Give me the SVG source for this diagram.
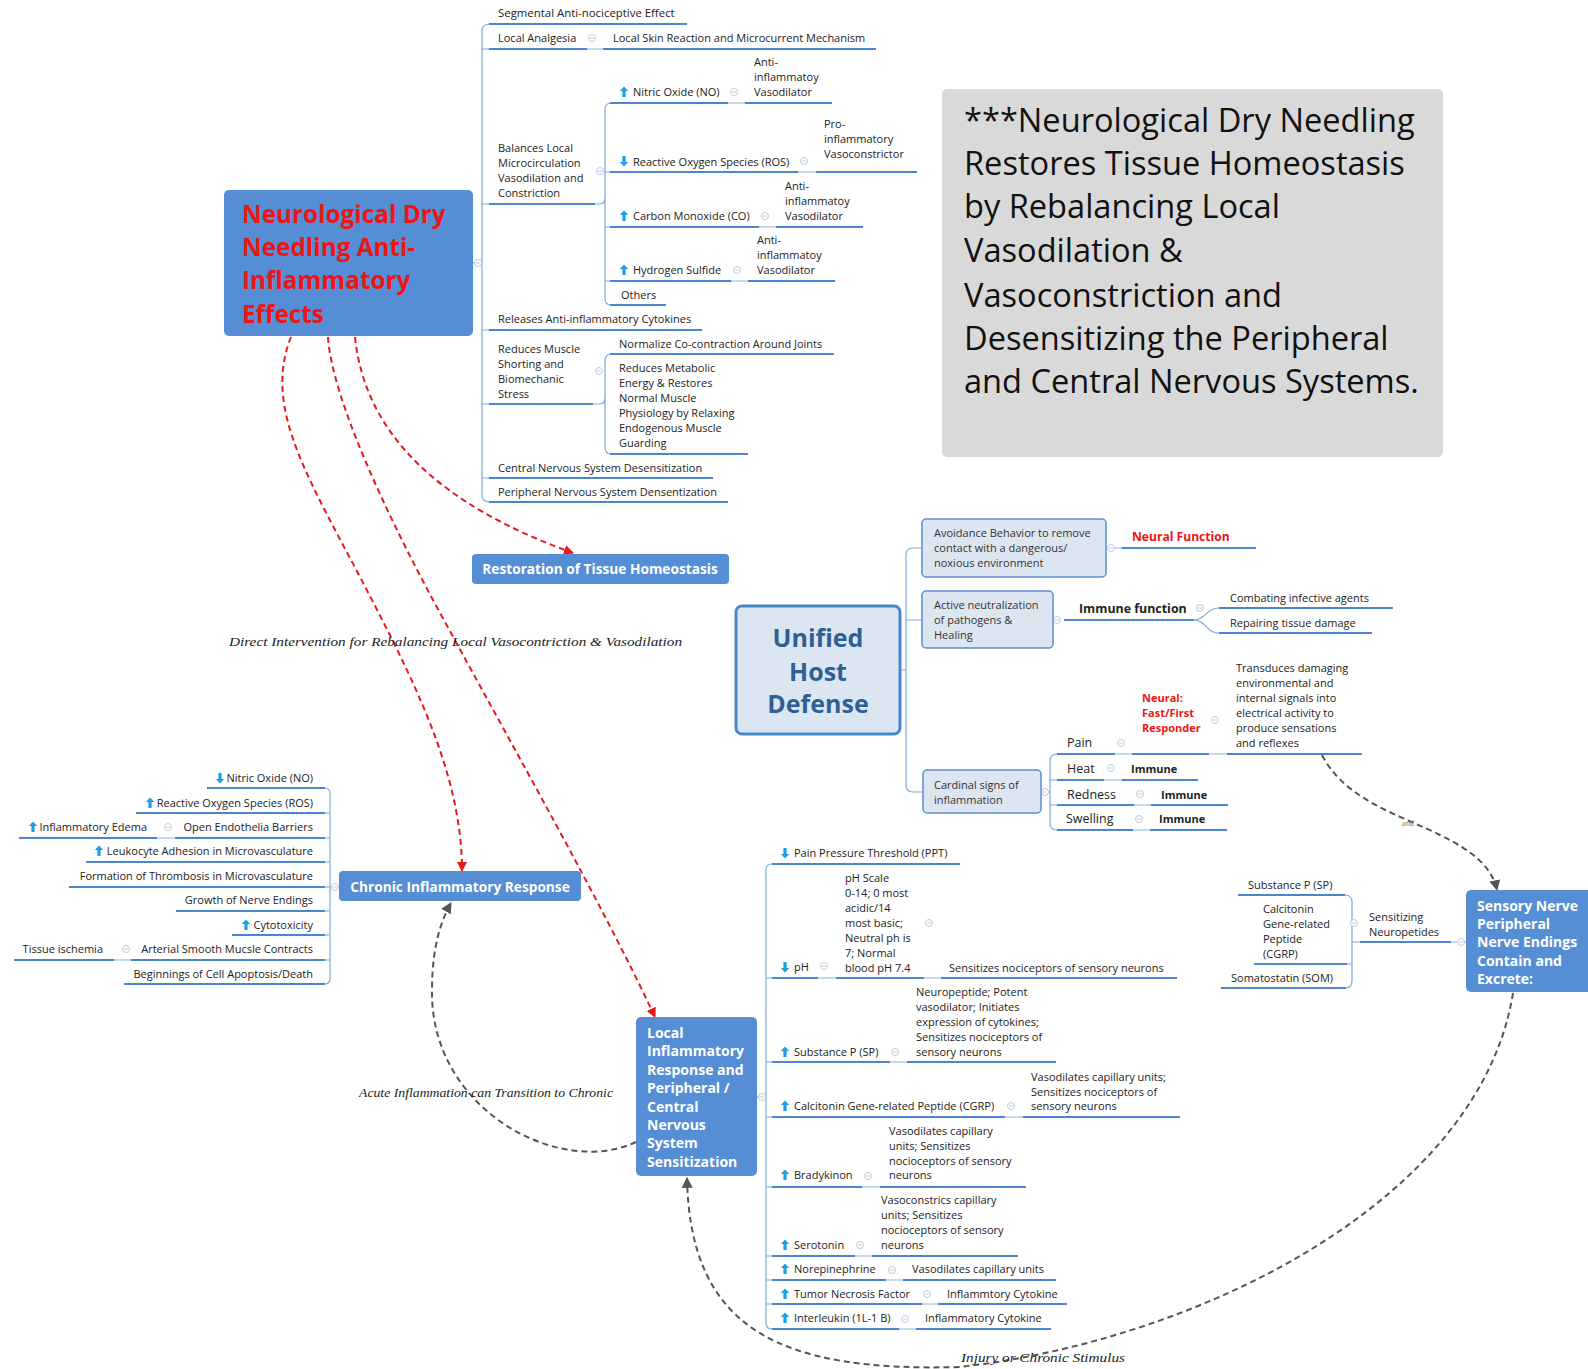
<svg xmlns="http://www.w3.org/2000/svg" xmlns:xlink="http://www.w3.org/1999/xlink" width="1588" height="1369" viewBox="0 0 1588 1369">
<style>
.t{font-family:"Open Sans","Liberation Sans",sans-serif;font-size:11px;fill:#222}
.tm{font-family:"Open Sans","Liberation Sans",sans-serif;font-size:12.5px;fill:#222}
.b{font-weight:bold}
.red{fill:#f01414;font-weight:bold}
.wb{font-family:"Open Sans","Liberation Sans",sans-serif;font-weight:bold;fill:#fff}
.it{font-family:"Liberation Serif","DejaVu Serif",serif;font-style:italic;fill:#222}
.ul{stroke:#4a86cf;stroke-width:2;fill:none}
.cn{stroke:#7ea8dd;stroke-width:1.2;fill:none}
.th{stroke:#c9d9ee;stroke-width:2;fill:none}
.bx{fill:#558ed5}
.lb{fill:#dce6f1;stroke:#5a8ed0;stroke-width:1.5}
.rd{stroke:#e31b1b;stroke-width:2;fill:none;stroke-dasharray:6 4}
.gd{stroke:#555;stroke-width:2;fill:none;stroke-dasharray:6 4}
</style>
<defs>
<g id="col"><circle r="3.5" fill="#fff" stroke="#bccbe0" stroke-width="1"/><path d="M-2,0H2" stroke="#bccbe0" stroke-width="1"/></g>
<path id="up" d="M0,-5.5 L4.2,-1 L1.6,-1 L1.6,5 L-1.6,5 L-1.6,-1 L-4.2,-1Z" fill="#1c9ee6"/>
<path id="dn" d="M0,5.5 L4.2,1 L1.6,1 L1.6,-5 L-1.6,-5 L-1.6,1 L-4.2,1Z" fill="#1c9ee6"/>
<marker id="ar" viewBox="0 0 10 10" refX="9" refY="5" markerWidth="10" markerHeight="10" markerUnits="userSpaceOnUse" orient="auto"><path d="M0,0 L10,5 L0,10Z" fill="#e31b1b"/></marker>
<marker id="ag" viewBox="0 0 10 10" refX="9" refY="5" markerWidth="11" markerHeight="11" markerUnits="userSpaceOnUse" orient="auto"><path d="M0,0 L10,5 L0,10Z" fill="#555"/></marker>
</defs>
<rect width="1588" height="1369" fill="#fff"/>

<!-- connectors -->
<g id="connectors">
<path class="cn" d="M490,24 Q482,24 482,31 L482,495 Q482,502 490,502 M482,49 H490 M482,204 H490 M482,330 H490 M482,404 H490 M482,478 H490 M473,263 H482"/>
<path class="cn" d="M595,204 H600 Q605,204 605,197 L605,110 Q605,103 611,103 M605,197 L605,298 Q605,305 611,305 M605,172 H611 M605,227 H611 M605,281 H611"/>
<path class="cn" d="M593,404 H600 Q605,404 605,397 L605,361 Q605,354 611,354 M605,397 L605,447 Q605,454 611,454"/>
<path class="cn" d="M922,548 H913 Q906,548 906,555 L906,785 Q906,792 913,792 H922 M906,620 H922 M900,670 H906"/>
<path class="cn" d="M1194,620 C1206,620 1206,608 1219,608 M1194,620 C1206,620 1206,633 1219,633"/>
<path class="cn" d="M1057,754 Q1050,754 1050,761 L1050,823 Q1050,830 1057,830 M1050,780 H1057 M1050,805 H1057 M1041,792 H1050"/>
<path class="cn" d="M1345,895 Q1352,895 1352,902 L1352,981 Q1352,988 1345,988 M1347,964 H1352 M1352,942 H1360"/>
<path class="cn" d="M772,864 Q766,864 766,870 L766,1323 Q766,1329 772,1329 M766,978 H772 M766,1062 H772 M766,1117 H772 M766,1187 H772 M766,1256 H772 M766,1280 H772 M766,1304 H772 M757,1097 H766"/>
<path class="cn" d="M325,788 Q330,788 330,794 L330,978 Q330,984 325,984 M325,813 H330 M325,838 H330 M325,862 H330 M325,887 H339 M325,911 H330 M325,935 H330 M325,960 H330"/>
<!-- small joins -->
<path class="th" d="M587,49 H603 M728,103 H745 M798,172 H816 M759,227 H776 M731,281 H748 M1106,548 H1122 M1115,754 H1132 M1209,754 H1227 M1104,780 H1122 M1134,805 H1151 M1133,830 H1150 M1451,942 H1466 M818,978 H836 M924,978 H941 M890,1062 H907 M1005,1117 H1023 M862,1187 H880 M855,1256 H872 M886,1280 H903 M922,1304 H938 M899,1329 H916 M157,838 H175 M114,960 H131"/>
<!-- red dashed -->
<path class="rd" marker-end="url(#ar)" d="M355,337 C365,435 440,505 573,553"/>
<path class="rd" marker-end="url(#ar)" d="M328,337 C332,400 390,520 433,600 C520,760 600,900 655,1017"/>
<path class="rd" marker-end="url(#ar)" d="M291,337 C262,410 310,480 372,600 C420,693 462,780 462,871"/>
<!-- gray dashed -->
<path class="gd" marker-end="url(#ag)" d="M636,1142 C560,1178 430,1110 432,990 C432,950 440,922 451,903"/>
<path class="gd" marker-end="url(#ag)" d="M1513,993 C1480,1200 1200,1340 960,1367 C780,1372 690,1330 687,1178"/>
<path class="gd" marker-end="url(#ag)" d="M1322,755 C1345,800 1400,815 1440,835 C1475,852 1492,868 1497,890"/>
<text class="it" x="1402" y="826" style="font-size:8px;fill:#777">and</text>
<text class="it" x="229" y="646" font-size="13.5" textLength="453" lengthAdjust="spacingAndGlyphs">Direct  Intervention for Rebalancing Local Vasocontriction &amp; Vasodilation</text>
<text class="it" x="359" y="1097" font-size="13.5" textLength="254" lengthAdjust="spacingAndGlyphs">Acute Inflammation can Transition to Chronic</text>
<text class="it" x="961" y="1362" font-size="13.5" textLength="164" lengthAdjust="spacingAndGlyphs">Injury or Chronic Stimulus</text>
</g>

<!-- collapse icons -->
<g id="icons">
<use href="#col" x="478" y="263"/><use href="#col" x="592" y="38"/><use href="#col" x="600" y="171"/>
<use href="#col" x="734" y="92"/><use href="#col" x="804" y="161"/><use href="#col" x="765" y="216"/><use href="#col" x="737" y="270"/>
<use href="#col" x="599" y="371"/>
<use href="#col" x="1111" y="548"/><use href="#col" x="1057" y="620"/><use href="#col" x="1200" y="608"/>
<use href="#col" x="1045" y="792"/><use href="#col" x="1121" y="743"/><use href="#col" x="1215" y="720"/>
<use href="#col" x="1111" y="768"/><use href="#col" x="1140" y="794"/><use href="#col" x="1139" y="819"/>
<use href="#col" x="1354" y="923"/><use href="#col" x="1461" y="942"/>
<use href="#col" x="762" y="1097"/><use href="#col" x="824" y="966"/><use href="#col" x="929" y="923"/>
<use href="#col" x="895" y="1052"/><use href="#col" x="1011" y="1106"/><use href="#col" x="868" y="1176"/>
<use href="#col" x="860" y="1245"/><use href="#col" x="892" y="1270"/><use href="#col" x="927" y="1294"/><use href="#col" x="905" y="1319"/>
<use href="#col" x="335" y="887"/><use href="#col" x="168" y="827"/><use href="#col" x="126" y="949"/>
</g>

<!-- main node -->
<g id="main">
<rect x="224" y="190" width="249" height="146" rx="5" class="bx"/>
<text font-family="'Open Sans','Liberation Sans',sans-serif" font-weight="bold" font-size="24.3" fill="#f01414"><tspan x="242" y="223">Neurological Dry</tspan><tspan x="242" y="256">Needling Anti-</tspan><tspan x="242" y="289">Inflammatory</tspan><tspan x="242" y="323">Effects</tspan></text>
</g>

<g id="segmental"><text class="t" x="498" y="17" style="font-size:11.4px">Segmental Anti-nociceptive Effect</text><path class="ul" d="M489,24 H687"/></g>
<g id="local-analgesia"><text class="t" x="498" y="42">Local Analgesia</text><path class="ul" d="M489,49 H587"/></g>
<g id="local-skin"><text class="t" x="613" y="42">Local Skin Reaction and Microcurrent Mechanism</text><path class="ul" d="M603,49 H876"/></g>
<g id="balances"><text class="t"><tspan x="498" y="152">Balances Local</tspan><tspan x="498" y="167">Microcirculation</tspan><tspan x="498" y="182">Vasodilation and</tspan><tspan x="498" y="197">Constriction</tspan></text><path class="ul" d="M489,204 H595"/></g>
<g id="no"><use href="#up" x="624" y="92"/><text class="t" x="633" y="96">Nitric Oxide (NO)</text><path class="ul" d="M610,103 H728"/></g>
<g id="no-d"><text class="t"><tspan x="754" y="66">Anti-</tspan><tspan x="754" y="81">inflammatoy</tspan><tspan x="754" y="96">Vasodilator</tspan></text><path class="ul" d="M745,103 H832"/></g>
<g id="ros"><use href="#dn" x="624" y="161"/><text class="t" x="633" y="166">Reactive Oxygen Species (ROS)</text><path class="ul" d="M610,172 H798"/></g>
<g id="ros-d"><text class="t"><tspan x="824" y="128">Pro-</tspan><tspan x="824" y="143">inflammatory</tspan><tspan x="824" y="158">Vasoconstrictor</tspan></text><path class="ul" d="M816,172 H917"/></g>
<g id="co"><use href="#up" x="624" y="216"/><text class="t" x="633" y="220">Carbon Monoxide (CO)</text><path class="ul" d="M610,227 H759"/></g>
<g id="co-d"><text class="t"><tspan x="785" y="190">Anti-</tspan><tspan x="785" y="205">inflammatoy</tspan><tspan x="785" y="220">Vasodilator</tspan></text><path class="ul" d="M776,227 H863"/></g>
<g id="h2s"><use href="#up" x="624" y="270"/><text class="t" x="633" y="274">Hydrogen Sulfide</text><path class="ul" d="M610,281 H731"/></g>
<g id="h2s-d"><text class="t"><tspan x="757" y="244">Anti-</tspan><tspan x="757" y="259">inflammatoy</tspan><tspan x="757" y="274">Vasodilator</tspan></text><path class="ul" d="M748,281 H835"/></g>
<g id="others"><text class="t" x="621" y="299">Others</text><path class="ul" d="M610,305 H666"/></g>
<g id="releases"><text class="t" x="498" y="323">Releases Anti-inflammatory Cytokines</text><path class="ul" d="M489,330 H702"/></g>
<g id="reduces"><text class="t"><tspan x="498" y="353">Reduces Muscle</tspan><tspan x="498" y="368">Shorting and</tspan><tspan x="498" y="383">Biomechanic</tspan><tspan x="498" y="398">Stress</tspan></text><path class="ul" d="M489,404 H593"/></g>
<g id="normalize"><text class="t" x="619" y="348">Normalize Co-contraction Around Joints</text><path class="ul" d="M610,354 H834"/></g>
<g id="metabolic"><text class="t"><tspan x="619" y="372">Reduces Metabolic</tspan><tspan x="619" y="387">Energy &amp; Restores</tspan><tspan x="619" y="402">Normal Muscle</tspan><tspan x="619" y="417">Physiology by Relaxing</tspan><tspan x="619" y="432">Endogenous Muscle</tspan><tspan x="619" y="447">Guarding</tspan></text><path class="ul" d="M610,454 H748"/></g>
<g id="cns"><text class="t" x="498" y="472">Central Nervous System Desensitization</text><path class="ul" d="M489,478 H713"/></g>
<g id="pns"><text class="t" x="498" y="496">Peripheral Nervous System Densentization</text><path class="ul" d="M489,502 H728"/></g>

<g id="title-box">
<rect x="942" y="89" width="501" height="368" rx="5" fill="#d9d9d9"/>
<text font-family="'Open Sans','Liberation Sans',sans-serif" font-size="32.6" fill="#111"><tspan x="964" y="132">***Neurological Dry Needling</tspan><tspan x="964" y="175">Restores Tissue Homeostasis</tspan><tspan x="964" y="218">by Rebalancing Local</tspan><tspan x="964" y="262">Vasodilation &amp;</tspan><tspan x="964" y="307">Vasoconstriction and</tspan><tspan x="964" y="350">Desensitizing the Peripheral</tspan><tspan x="964" y="393">and Central Nervous Systems.</tspan></text>
</g>

<g id="restoration"><rect x="472" y="554" width="257" height="30" rx="4" class="bx"/><text class="wb" x="600" y="574" font-size="13.7" text-anchor="middle">Restoration of Tissue Homeostasis</text></g>

<g id="unified"><rect x="736" y="606" width="164" height="128" rx="6" fill="#dce6f1" stroke="#4a86c8" stroke-width="3"/><text font-family="'Open Sans','Liberation Sans',sans-serif" font-weight="bold" font-size="25" fill="#2f5f95" text-anchor="middle"><tspan x="818" y="647">Unified</tspan><tspan x="818" y="681">Host</tspan><tspan x="818" y="713">Defense</tspan></text></g>
<g id="avoidance"><rect x="922" y="519" width="184" height="58" rx="4" class="lb"/><text class="t" style="fill:#333"><tspan x="934" y="537">Avoidance Behavior to remove</tspan><tspan x="934" y="552">contact with a dangerous/</tspan><tspan x="934" y="567">noxious environment</tspan></text></g>
<g id="neural-function"><text class="t red" x="1132" y="541" style="font-size:12.1px">Neural Function</text><path class="ul" d="M1122,548 H1256"/></g>
<g id="active"><rect x="922" y="591" width="131" height="57" rx="4" class="lb"/><text class="t" style="fill:#333"><tspan x="934" y="609">Active neutralization</tspan><tspan x="934" y="624">of pathogens &amp;</tspan><tspan x="934" y="639">Healing</tspan></text></g>
<g id="immune-function"><text class="t b" x="1079" y="613" style="font-size:12.4px">Immune function</text><path class="ul" d="M1064,620 H1194"/></g>
<g id="combating"><text class="t" x="1230" y="602">Combating infective agents</text><path class="ul" d="M1219,608 H1393"/></g>
<g id="repairing"><text class="t" x="1230" y="627">Repairing tissue damage</text><path class="ul" d="M1219,633 H1372"/></g>
<g id="cardinal"><rect x="923" y="770" width="118" height="43" rx="4" class="lb"/><text class="t" style="fill:#333"><tspan x="934" y="789">Cardinal signs of</tspan><tspan x="934" y="804">inflammation</tspan></text></g>
<g id="pain"><text class="tm" x="1067" y="747">Pain</text><path class="ul" d="M1057,754 H1115"/></g>
<g id="neural-fast"><text class="t red"><tspan x="1142" y="702">Neural:</tspan><tspan x="1142" y="717">Fast/First</tspan><tspan x="1142" y="732">Responder</tspan></text><path class="ul" d="M1132,754 H1209"/></g>
<g id="transduces"><text class="t"><tspan x="1236" y="672">Transduces damaging</tspan><tspan x="1236" y="687">environmental and</tspan><tspan x="1236" y="702">internal signals into</tspan><tspan x="1236" y="717">electrical activity to</tspan><tspan x="1236" y="732">produce sensations</tspan><tspan x="1236" y="747">and reflexes</tspan></text><path class="ul" d="M1227,754 H1362"/></g>
<g id="heat"><text class="tm" x="1067" y="773">Heat</text><path class="ul" d="M1057,780 H1104"/><text class="t b" x="1131" y="773">Immune</text><path class="ul" d="M1122,780 H1198"/></g>
<g id="redness"><text class="tm" x="1067" y="799">Redness</text><path class="ul" d="M1057,805 H1134"/><text class="t b" x="1161" y="799">Immune</text><path class="ul" d="M1151,805 H1228"/></g>
<g id="swelling"><text class="tm" x="1066" y="823">Swelling</text><path class="ul" d="M1057,830 H1133"/><text class="t b" x="1159" y="823">Immune</text><path class="ul" d="M1150,830 H1227"/></g>

<g id="sp-r"><text class="t" x="1248" y="889">Substance P (SP)</text><path class="ul" d="M1238,895 H1345"/></g>
<g id="cgrp-r"><text class="t"><tspan x="1263" y="913">Calcitonin</tspan><tspan x="1263" y="928">Gene-related</tspan><tspan x="1263" y="943">Peptide</tspan><tspan x="1263" y="958">(CGRP)</tspan></text><path class="ul" d="M1254,964 H1347"/></g>
<g id="som"><text class="t" x="1231" y="982">Somatostatin (SOM)</text><path class="ul" d="M1221,988 H1346"/></g>
<g id="sensitizing"><text class="t"><tspan x="1369" y="921">Sensitizing</tspan><tspan x="1369" y="936">Neuropetides</tspan></text><path class="ul" d="M1360,942 H1451"/></g>
<g id="sensory"><rect x="1466" y="890" width="130" height="102" rx="5" class="bx"/><text class="wb" font-size="14"><tspan x="1477" y="911">Sensory Nerve</tspan><tspan x="1477" y="929">Peripheral</tspan><tspan x="1477" y="947">Nerve Endings</tspan><tspan x="1477" y="966">Contain and</tspan><tspan x="1477" y="984">Excrete:</tspan></text></g>

<g id="chronic"><rect x="339" y="871" width="242" height="30" rx="4" class="bx"/><text class="wb" x="460" y="892" font-size="13.7" text-anchor="middle">Chronic Inflammatory Response</text></g>
<g id="c-no"><use href="#dn" x="220" y="778"/><text class="t" x="313" y="782" text-anchor="end">Nitric Oxide (NO)</text><path class="ul" d="M207,788 H325"/></g>
<g id="c-ros"><use href="#up" x="150" y="803"/><text class="t" x="313" y="807" text-anchor="end">Reactive Oxygen Species (ROS)</text><path class="ul" d="M136,813 H325"/></g>
<g id="c-open"><text class="t" x="313" y="831" text-anchor="end">Open Endothelia Barriers</text><path class="ul" d="M175,838 H325"/></g>
<g id="c-edema"><use href="#up" x="33" y="827"/><text class="t" x="147" y="831" text-anchor="end">Inflammatory Edema</text><path class="ul" d="M19,838 H157"/></g>
<g id="c-leuko"><use href="#up" x="99" y="851"/><text class="t" x="313" y="855" text-anchor="end">Leukocyte Adhesion in Microvasculature</text><path class="ul" d="M86,862 H325"/></g>
<g id="c-thromb"><text class="t" x="313" y="880" text-anchor="end">Formation of Thrombosis in Microvasculature</text><path class="ul" d="M69,887 H325"/></g>
<g id="c-growth"><text class="t" x="313" y="904" text-anchor="end">Growth of Nerve Endings</text><path class="ul" d="M176,911 H325"/></g>
<g id="c-cyto"><use href="#up" x="246" y="925"/><text class="t" x="313" y="929" text-anchor="end">Cytotoxicity</text><path class="ul" d="M232,935 H325"/></g>
<g id="c-arterial"><text class="t" x="313" y="953" text-anchor="end">Arterial Smooth Mucsle Contracts</text><path class="ul" d="M131,960 H325"/></g>
<g id="c-ischemia"><text class="t" x="103" y="953" text-anchor="end">Tissue ischemia</text><path class="ul" d="M14,960 H114"/></g>
<g id="c-apop"><text class="t" x="313" y="978" text-anchor="end">Beginnings of Cell Apoptosis/Death</text><path class="ul" d="M124,984 H325"/></g>

<g id="local"><rect x="636" y="1017" width="121" height="159" rx="5" class="bx"/><text class="wb" font-size="14"><tspan x="647" y="1038">Local</tspan><tspan x="647" y="1056">Inflammatory</tspan><tspan x="647" y="1075">Response and</tspan><tspan x="647" y="1093">Peripheral /</tspan><tspan x="647" y="1112">Central</tspan><tspan x="647" y="1130">Nervous</tspan><tspan x="647" y="1148">System</tspan><tspan x="647" y="1167">Sensitization</tspan></text></g>
<g id="ppt"><use href="#dn" x="785" y="853"/><text class="t" x="794" y="857">Pain Pressure Threshold (PPT)</text><path class="ul" d="M772,864 H960"/></g>
<g id="ph"><use href="#dn" x="785" y="967"/><text class="t" x="794" y="971">pH</text><path class="ul" d="M772,978 H818"/></g>
<g id="ph-scale"><text class="t"><tspan x="845" y="882">pH Scale</tspan><tspan x="845" y="897">0-14; 0 most</tspan><tspan x="845" y="912">acidic/14</tspan><tspan x="845" y="927">most basic;</tspan><tspan x="845" y="942">Neutral ph is</tspan><tspan x="845" y="957">7; Normal</tspan><tspan x="845" y="972">blood pH 7.4</tspan></text><path class="ul" d="M836,978 H924"/></g>
<g id="ph-sens"><text class="t" x="949" y="972">Sensitizes nociceptors of sensory neurons</text><path class="ul" d="M941,978 H1177"/></g>
<g id="sp"><use href="#up" x="785" y="1052"/><text class="t" x="794" y="1056">Substance P (SP)</text><path class="ul" d="M772,1062 H890"/></g>
<g id="sp-d"><text class="t"><tspan x="916" y="996">Neuropeptide; Potent</tspan><tspan x="916" y="1011">vasodilator; Initiates</tspan><tspan x="916" y="1026">expression of cytokines;</tspan><tspan x="916" y="1041">Sensitizes nociceptors of</tspan><tspan x="916" y="1056">sensory neurons</tspan></text><path class="ul" d="M907,1062 H1056"/></g>
<g id="cgrp"><use href="#up" x="785" y="1106"/><text class="t" x="794" y="1110">Calcitonin Gene-related Peptide (CGRP)</text><path class="ul" d="M772,1117 H1005"/></g>
<g id="cgrp-d"><text class="t"><tspan x="1031" y="1081">Vasodilates capillary units;</tspan><tspan x="1031" y="1096">Sensitizes nociceptors of</tspan><tspan x="1031" y="1110">sensory neurons</tspan></text><path class="ul" d="M1023,1117 H1180"/></g>
<g id="brady"><use href="#up" x="785" y="1175"/><text class="t" x="794" y="1179">Bradykinon</text><path class="ul" d="M772,1187 H862"/></g>
<g id="brady-d"><text class="t"><tspan x="889" y="1135">Vasodilates capillary</tspan><tspan x="889" y="1150">units; Sensitizes</tspan><tspan x="889" y="1165">nocioceptors of sensory</tspan><tspan x="889" y="1179">neurons</tspan></text><path class="ul" d="M880,1187 H1026"/></g>
<g id="sero"><use href="#up" x="785" y="1245"/><text class="t" x="794" y="1249">Serotonin</text><path class="ul" d="M772,1256 H855"/></g>
<g id="sero-d"><text class="t"><tspan x="881" y="1204">Vasoconstrics capillary</tspan><tspan x="881" y="1219">units; Sensitizes</tspan><tspan x="881" y="1234">nocioceptors of sensory</tspan><tspan x="881" y="1249">neurons</tspan></text><path class="ul" d="M872,1256 H1018"/></g>
<g id="norep"><use href="#up" x="785" y="1269"/><text class="t" x="794" y="1273">Norepinephrine</text><path class="ul" d="M772,1280 H886"/><text class="t" x="912" y="1273">Vasodilates capillary units</text><path class="ul" d="M903,1280 H1056"/></g>
<g id="tnf"><use href="#up" x="785" y="1294"/><text class="t" x="794" y="1298">Tumor Necrosis Factor</text><path class="ul" d="M772,1304 H922"/><text class="t" x="947" y="1298">Inflammtory Cytokine</text><path class="ul" d="M938,1304 H1067"/></g>
<g id="il"><use href="#up" x="785" y="1318"/><text class="t" x="794" y="1322">Interleukin (1L-1 B)</text><path class="ul" d="M772,1329 H899"/><text class="t" x="925" y="1322">Inflammatory Cytokine</text><path class="ul" d="M916,1329 H1051"/></g>
</svg>
